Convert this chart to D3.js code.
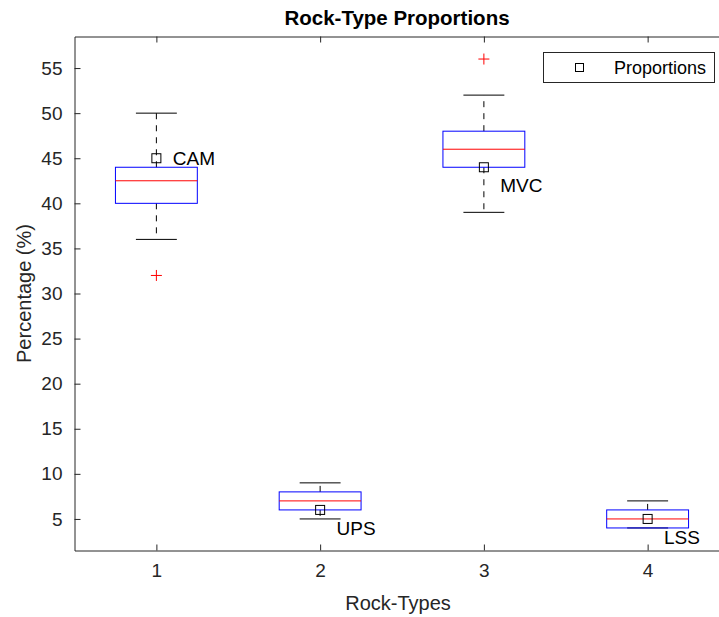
<!DOCTYPE html>
<html>
<head>
<meta charset="utf-8">
<script src="https://cdn.jsdelivr.net/npm/d3@7"></script>
<style>
  html, body { margin: 0; padding: 0; background: #fff; overflow: hidden; }
  svg { display: block; font-family: "Liberation Sans", Arial, Helvetica, sans-serif; }
</style>
</head>
<body>
<svg id="chart" width="719" height="617"></svg>
<script>
// Box statistics per rock type
const categories   = [1, 2, 3, 4];
const rockNames    = ["CAM", "UPS", "MVC", "LSS"];
const whiskerLow   = [36, 5, 39, 4];
const quartile1    = [40, 6, 44, 4];
const medians      = [42.5, 7, 46, 5];
const quartile3    = [44, 8, 48, 6];
const whiskerHigh  = [50, 9, 52, 7];
const outliers     = [[32], [], [56], []];
// Measured proportion for each rock type, with its text label position
const proportions  = [45, 6, 44, 5];
const labelY       = [45, 4, 42, 3];
const yTicks       = [5, 10, 15, 20, 25, 30, 35, 40, 45, 50, 55];
const xTicks       = [1, 2, 3, 4];

const svg = d3.select("#chart");
const axisColor = "#262626";
const margin = { left: 74.5, top: 36.5, right: 729.5, bottom: 550.5 };

const x = d3.scaleLinear().domain([0.5, 4.5]).range([margin.left, margin.right]);
const y = d3.scaleLinear().domain([1.5, 58.5]).range([margin.bottom, margin.top]);

const boxHalf = 0.25, capHalf = 0.125;
const fontSize = 19;

// Axes (left, bottom, top) with inward ticks
const tickLen = 6;
const axLeft = svg.append("g").attr("transform", `translate(${margin.left},0)`)
  .call(d3.axisLeft(y).tickValues(yTicks).tickFormat(d3.format("d"))
    .tickSize(-tickLen).tickPadding(12).tickSizeOuter(0));
const axBottom = svg.append("g").attr("transform", `translate(0,${margin.bottom})`)
  .call(d3.axisBottom(x).tickValues(xTicks).tickFormat(d3.format("d"))
    .tickSize(-tickLen).tickPadding(13).tickSizeOuter(0));
const axTop = svg.append("g").attr("transform", `translate(0,${margin.top})`)
  .call(d3.axisTop(x).tickValues(xTicks).tickSize(-tickLen).tickFormat("").tickSizeOuter(0));
[axLeft, axBottom, axTop].forEach(g => {
  g.selectAll(".domain").attr("stroke", axisColor).attr("stroke-width", 1);
  g.selectAll(".tick line").attr("stroke", axisColor).attr("stroke-width", 1);
  g.selectAll(".tick text").attr("fill", axisColor).attr("font-size", fontSize)
    .attr("font-family", "Liberation Sans, Arial, sans-serif");
});

// Boxes
const rows = categories.map((c, i) => ({
  c, lo: whiskerLow[i], q1: quartile1[i], med: medians[i], q3: quartile3[i],
  hi: whiskerHigh[i], out: outliers[i], p: proportions[i], name: rockNames[i], ly: labelY[i]
}));

const g = svg.append("g");
rows.forEach(r => {
  // whiskers (dashed) and caps
  if (r.hi > r.q3)
    g.append("line").attr("x1", x(r.c)).attr("x2", x(r.c)).attr("y1", y(r.q3)).attr("y2", y(r.hi))
      .attr("stroke", "#000").attr("stroke-width", 1).attr("stroke-dasharray", "6,6");
  if (r.lo < r.q1)
    g.append("line").attr("x1", x(r.c)).attr("x2", x(r.c)).attr("y1", y(r.q1)).attr("y2", y(r.lo))
      .attr("stroke", "#000").attr("stroke-width", 1).attr("stroke-dasharray", "6,6");
  [r.hi, r.lo].forEach(v => {
    g.append("line").attr("x1", x(r.c - capHalf)).attr("x2", x(r.c + capHalf))
      .attr("y1", y(v)).attr("y2", y(v)).attr("stroke", "#000").attr("stroke-width", 1);
  });
});
rows.forEach(r => {
  // box
  g.append("rect").attr("x", x(r.c - boxHalf)).attr("y", y(r.q3))
    .attr("width", x(r.c + boxHalf) - x(r.c - boxHalf)).attr("height", y(r.q1) - y(r.q3))
    .attr("fill", "none").attr("stroke", "#0000ff").attr("stroke-width", 1);
  // median
  g.append("line").attr("x1", x(r.c - boxHalf)).attr("x2", x(r.c + boxHalf))
    .attr("y1", y(r.med)).attr("y2", y(r.med)).attr("stroke", "#ff0000").attr("stroke-width", 1);
  // outliers
  r.out.forEach(v => {
    const cx = x(r.c), cy = y(v), s = 5.5;
    g.append("path").attr("d", `M${cx - s},${cy}H${cx + s}M${cx},${cy - s}V${cy + s}`)
      .attr("stroke", "#ff0000").attr("stroke-width", 1).attr("fill", "none");
  });
});

// Proportion markers and labels
rows.forEach(r => {
  const s = 9;
  g.append("rect").attr("x", x(r.c) - s / 2).attr("y", y(r.p) - s / 2)
    .attr("width", s).attr("height", s).attr("fill", "none")
    .attr("stroke", "#000").attr("stroke-width", 1);
  g.append("text").attr("x", x(r.c + 0.1)).attr("y", y(r.ly)).attr("dy", "0.35em")
    .attr("font-size", fontSize).attr("fill", "#000").text(r.name);
});

// Legend
const lg = svg.append("g");
lg.append("rect").attr("x", 543.5).attr("y", 52.5).attr("width", 171).attr("height", 30)
  .attr("fill", "#fff").attr("stroke", axisColor).attr("stroke-width", 1);
lg.append("rect").attr("x", 575.5).attr("y", 63.5).attr("width", 8).attr("height", 8)
  .attr("fill", "none").attr("stroke", "#000").attr("stroke-width", 1);
lg.append("text").attr("x", 614).attr("y", 67.5).attr("dy", "0.35em")
  .attr("font-size", 18).attr("fill", "#000").text("Proportions");

// Title and axis labels
svg.append("text").attr("x", 397).attr("y", 25).attr("text-anchor", "middle")
  .attr("font-size", 20.5).attr("font-weight", "bold").attr("fill", "#000").text("Rock-Type Proportions");
svg.append("text").attr("x", 398).attr("y", 610).attr("text-anchor", "middle")
  .attr("font-size", 20).attr("fill", axisColor).text("Rock-Types");
svg.append("text").attr("transform", `translate(31,${(margin.top + margin.bottom) / 2}) rotate(-90)`)
  .attr("text-anchor", "middle").attr("font-size", 20).attr("fill", axisColor).text("Percentage (%)");
</script>
</body>
</html>
